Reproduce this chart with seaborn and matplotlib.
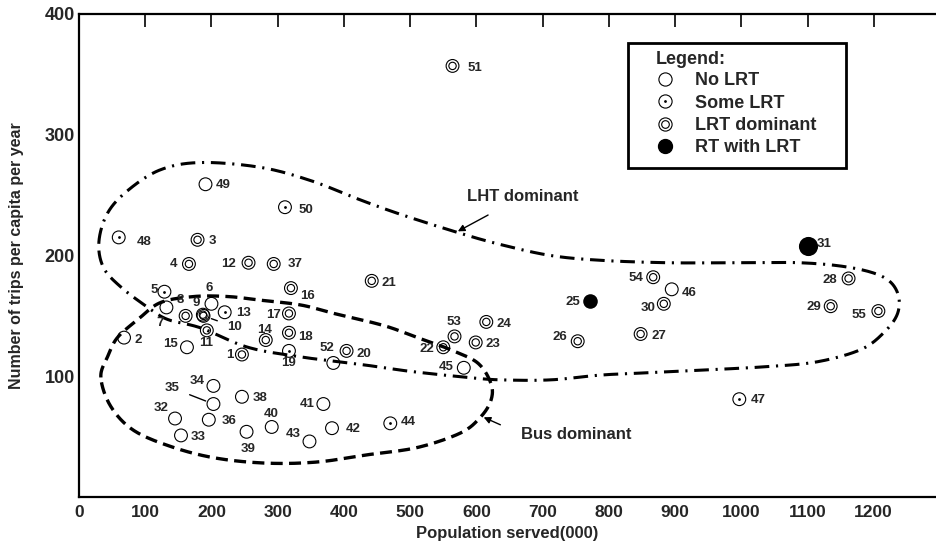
import numpy as np
import pandas as pd
import matplotlib
matplotlib.use('Agg')
import matplotlib.pyplot as plt
import seaborn as sns
from matplotlib.lines import Line2D
from matplotlib.patches import Rectangle
from matplotlib.legend_handler import HandlerTuple

# --- data ---
city_id = list(range(1, 56))
population = [246, 68, 179, 166, 129, 200, 132, 161, 187, 188, 193, 256, 220, 282, 163,
              320, 317, 317, 317, 404, 442, 550, 599, 615, 772, 753, 848, 1162, 1135, 883,
              1100, 145, 154, 203, 203, 196, 294, 246, 253, 291, 369, 382, 348, 470, 581,
              895, 997, 60, 191, 311, 564, 384, 567, 867, 1207]
trips = [118, 132, 213, 193, 170, 160, 157, 150, 151, 150, 138, 194, 153, 130, 124,
         173, 152, 136, 121, 121, 179, 124, 128, 145, 162, 129, 135, 181, 158, 160,
         208, 65, 51, 92, 77, 64, 193, 83, 54, 58, 77, 57, 46, 61, 107,
         172, 81, 215, 259, 240, 357, 111, 133, 182, 154]
kind = ['LRT dominant', 'No LRT', 'LRT dominant', 'LRT dominant', 'Some LRT',
        'No LRT', 'No LRT', 'LRT dominant', 'LRT dominant', 'LRT dominant',
        'LRT dominant', 'LRT dominant', 'Some LRT', 'LRT dominant', 'No LRT',
        'LRT dominant', 'LRT dominant', 'LRT dominant', 'Some LRT', 'LRT dominant',
        'LRT dominant', 'LRT dominant', 'LRT dominant', 'LRT dominant', 'RT with LRT',
        'LRT dominant', 'LRT dominant', 'LRT dominant', 'LRT dominant', 'LRT dominant',
        'RT with LRT', 'No LRT', 'No LRT', 'No LRT', 'No LRT',
        'No LRT', 'LRT dominant', 'No LRT', 'No LRT', 'No LRT',
        'No LRT', 'No LRT', 'No LRT', 'Some LRT', 'No LRT',
        'No LRT', 'Some LRT', 'Some LRT', 'No LRT', 'Some LRT',
        'LRT dominant', 'No LRT', 'LRT dominant', 'LRT dominant', 'LRT dominant']

# hand-drawn group boundaries (data units)
lht_x = [30, 43, 74, 123, 184, 274, 350, 425, 486, 572, 637, 712, 788, 889, 988, 1089,
         1165, 1215, 1236, 1236, 1215, 1180, 1115, 1040, 938, 863, 788, 712, 637, 587,
         501, 436, 335, 255, 184, 134, 104, 63, 37]
lht_y = [211, 235, 254, 271, 277, 273, 262, 246, 234, 219, 209, 200, 196, 194, 194, 194,
         190, 182, 169, 152, 136, 122, 112, 108, 105, 103, 101, 97, 97, 99,
         104, 109, 116, 124, 140, 147, 157, 174, 190]
bus_x = [33, 43, 58, 89, 123, 173, 225, 274, 335, 385, 460, 511, 561, 602, 622, 622,
         606, 576, 511, 436, 360, 285, 209, 143, 83, 48]
bus_y = [99, 116, 132, 147, 161, 166, 166, 163, 159, 152, 142, 132, 122, 111, 94, 80,
         66, 53, 41, 35, 29, 28, 32, 41, 55, 75]

legend_labels = ['No LRT', 'Some LRT', 'LRT dominant', 'RT with LRT']

# label offsets in pixels (dx, dy)
label_off = {1: (-12, 0), 2: (14, -2), 3: (15, -1), 4: (-15, 0), 5: (-10, 2), 6: (-2, 16),
             7: (-6, -16), 8: (-5, 16), 9: (-7, 12), 10: (31, -11), 11: (-1, -13),
             12: (-20, -1), 13: (19, -1), 14: (-1, 10), 15: (-16, 3), 16: (17, -8),
             17: (-15, -2), 18: (16, -4), 19: (0, -12), 20: (17, -3), 21: (17, -2),
             22: (-16, -2), 23: (17, -2), 24: (18, -2), 25: (-17, -1), 26: (-18, 4),
             27: (18, -2), 28: (-19, -2), 29: (-17, -1), 30: (-16, -4), 31: (17, 2),
             32: (-14, 11), 33: (17, -2), 34: (-16, 5), 35: (-41, 16), 36: (20, -1),
             37: (21, 0), 38: (18, -1), 39: (2, -17), 40: (-1, 13), 41: (-16, 0),
             42: (21, -1), 43: (-16, 7), 44: (18, 1), 45: (-18, 1), 46: (17, -4),
             47: (19, -1), 48: (25, -5), 49: (18, -1), 50: (21, -3), 51: (22, -2),
             52: (-6, 15), 53: (-1, 14), 54: (-17, -1), 55: (-19, -4)}

df = pd.DataFrame({'id': city_id, 'pop': population, 'trips': trips, 'kind': kind})


def closed_curve(xs, ys, n=24):
    P = np.column_stack([xs, ys]).astype(float)
    m = len(P)
    t = np.linspace(0, 1, n, endpoint=False)[:, None]
    out = []
    for i in range(m):
        p0, p1, p2, p3 = P[i - 1], P[i], P[(i + 1) % m], P[(i + 2) % m]
        out.append(0.5 * (2 * p1 + (-p0 + p2) * t + (2 * p0 - 5 * p1 + 4 * p2 - p3) * t ** 2
                          + (-p0 + 3 * p1 - 3 * p2 + p3) * t ** 3))
    out = np.vstack(out + [P[:1]])
    return out[:, 0], out[:, 1]


sns.set_style('white')
plt.rcParams['font.family'] = ['Liberation Sans', 'DejaVu Sans']
plt.rcParams['font.weight'] = 'bold'

fig = plt.figure(figsize=(9.36, 5.51), dpi=100)
ax = fig.add_axes([79 / 936, 54 / 551, 857 / 936, 483 / 551])

# boundaries
cx, cy = closed_curve(lht_x, lht_y)
ax.plot(cx, cy, color='black', lw=2.2, ls=(0, (4.8, 2.2, 0.7, 2.2)))
cx, cy = closed_curve(bus_x, bus_y)
ax.plot(cx, cy, color='black', lw=2.4, ls=(0, (3.6, 1.9)))

# markers
ring = dict(facecolors='none', edgecolor='black', linewidth=0.8, legend=False, zorder=3)
no = df[df.kind == 'No LRT']
some = df[df.kind == 'Some LRT']
dom = df[df.kind == 'LRT dominant']
rt = df[df.kind == 'RT with LRT']
sns.scatterplot(data=no, x='pop', y='trips', s=85, ax=ax, **ring)
sns.scatterplot(data=some, x='pop', y='trips', s=85, ax=ax, **ring)
sns.scatterplot(data=some, x='pop', y='trips', s=4, color='black', linewidth=0, legend=False, ax=ax, zorder=3)
sns.scatterplot(data=dom, x='pop', y='trips', s=85, ax=ax, **ring)
sns.scatterplot(data=dom, x='pop', y='trips', s=28, ax=ax, **ring)
sns.scatterplot(data=rt[rt.id != 31], x='pop', y='trips', s=110, color='black', linewidth=0,
                legend=False, ax=ax, zorder=3)
sns.scatterplot(data=rt[rt.id == 31], x='pop', y='trips', s=190, color='black', linewidth=0,
                legend=False, ax=ax, zorder=3)

# point labels
for _, r in df.iterrows():
    dx, dy = label_off[r.id]
    arrow = None
    if r.id in (10, 35):
        arrow = dict(arrowstyle='-', color='black', lw=1.0, shrinkA=5, shrinkB=6)
    ax.annotate(str(r.id), (r['pop'], r.trips), xytext=(dx, dy), textcoords='offset pixels',
                ha='center', va='center', fontsize=9.5, fontweight='bold', arrowprops=arrow)

# group annotations
ax.annotate('LHT dominant', xy=(572, 220), xytext=(670, 249), ha='center', va='center',
            fontsize=12, fontweight='bold',
            arrowprops=dict(arrowstyle='-|>', color='black', lw=1.0, shrinkA=12, shrinkB=0,
                            mutation_scale=10))
ax.annotate('Bus dominant', xy=(611, 66), xytext=(668, 52), ha='left', va='center',
            fontsize=12, fontweight='bold',
            arrowprops=dict(arrowstyle='-|>', color='black', lw=1.0, shrinkA=14, shrinkB=0,
                            mutation_scale=10, relpos=(0, 0.5)))

# axes
ax.set_xlim(0, 1294)
ax.set_ylim(0, 400)
ax.set_xticks(range(0, 1300, 100))
ax.set_yticks([100, 200, 300, 400])
ax.tick_params(axis='x', direction='in', top=True, length=9, width=1.4, pad=6, labelsize=12.5)
ax.tick_params(axis='y', direction='in', length=8, width=1.4, pad=3, labelsize=13)
for s in ['left', 'bottom', 'top']:
    ax.spines[s].set_linewidth(1.6)
    ax.spines[s].set_color('black')
ax.spines['right'].set_visible(False)
ax.set_xlabel('Population served(000)', fontsize=12, fontweight='bold', labelpad=4)
ax.set_ylabel('Number of trips per capita per year', fontsize=11.5, fontweight='bold', labelpad=15)

# legend (box drawn separately so the entries can sit indented inside it)
ax.add_patch(Rectangle((549 / 857, 329 / 483), 218 / 857, 125 / 483, transform=ax.transAxes,
                       facecolor='white', edgecolor='black', linewidth=2, zorder=4))
h_no = Line2D([], [], ls='none', marker='o', ms=9.5, mfc='none', mec='black', mew=0.8)
h_some = (Line2D([], [], ls='none', marker='o', ms=9.5, mfc='none', mec='black', mew=0.8),
          Line2D([], [], ls='none', marker='o', ms=2, mfc='black', mec='black', mew=0))
h_dom = (Line2D([], [], ls='none', marker='o', ms=9.5, mfc='none', mec='black', mew=0.8),
         Line2D([], [], ls='none', marker='o', ms=5.5, mfc='none', mec='black', mew=0.8))
h_rt = Line2D([], [], ls='none', marker='o', ms=10, mfc='black', mec='black')
leg = ax.legend([h_no, h_some, h_dom, h_rt], legend_labels,
                handler_map={tuple: HandlerTuple(ndivide=1, pad=0)},
                title='Legend:', alignment='left', loc='upper left',
                bbox_to_anchor=(577 / 857, 446 / 483), frameon=False,
                prop={'weight': 'bold', 'size': 13},
                title_fontproperties={'weight': 'bold', 'size': 13},
                handlelength=1.0, handletextpad=1.15, labelspacing=0.3,
                borderpad=0, borderaxespad=0)
leg.set_zorder(5)
leg._legend_box.sep = 3

fig.savefig('out.png', dpi=100)
